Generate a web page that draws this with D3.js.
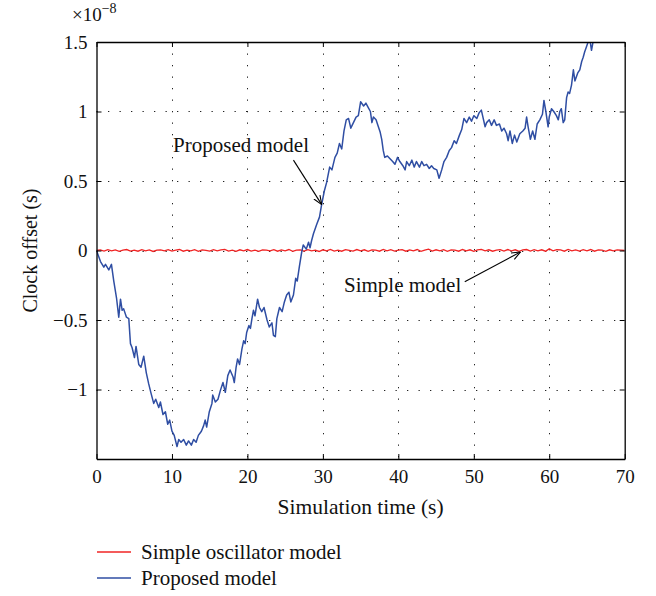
<!DOCTYPE html>
<html>
<head>
<meta charset="utf-8">
<script src="https://cdn.jsdelivr.net/npm/d3@7"></script>
<style>
  html, body { margin: 0; padding: 0; background: #fff; }
</style>
</head>
<body>
<svg id="chart" width="656" height="596"></svg>
<script>
// ---- data (values in units of 1e-8 s) ----
const xTicks = [0, 10, 20, 30, 40, 50, 60, 70];
const yTicks = [-1, -0.5, 0, 0.5, 1, 1.5];
const yGrid = [-1, -0.5, 0, 0.5, 1];
const seriesNames = ["Simple oscillator model", "Proposed model"];
const seriesColors = ["#f02424", "#2f4ea3"];

const proposedT = [0,0.53,0.97,1.19,1.63,1.98,2.29,2.65,2.95,3.18,3.4,3.6,3.97,4.28,4.5,4.72,5.03,5.24,5.6,5.9,6.26,6.6,6.92,7.24,7.58,7.85,8.25,8.47,8.81,9.13,9.44,9.7,10.0,10.3,10.67,10.9,11.2,11.55,11.9,12.2,12.57,12.87,13.2,13.5,13.9,14.2,14.4,14.6,14.95,15.3,15.4,15.75,16.1,16.4,16.76,17.07,17.4,17.7,18.1,18.26,18.5,18.7,18.96,19.27,19.5,19.7,19.9,20.2,20.4,20.6,20.8,21.0,21.35,21.6,21.9,22.2,22.6,22.9,23.25,23.45,23.7,23.9,24.25,24.6,24.9,25.2,25.5,25.75,26.1,26.4,26.6,26.9,27.2,27.4,27.8,28.1,28.3,28.5,28.75,29.2,29.55,29.87,30.2,30.5,30.9,31.2,31.6,31.9,32.2,32.5,32.8,33.1,33.4,33.7,34.05,34.4,34.7,35.0,35.4,35.7,36.0,36.3,36.5,36.7,37.05,37.3,37.6,37.8,38.0,38.2,38.55,38.9,39.25,39.55,39.9,40.2,40.6,40.9,41.1,41.45,41.8,42.1,42.4,42.8,43.1,43.4,43.75,44.1,44.4,44.7,45.1,45.4,45.75,46.05,46.4,46.75,47.05,47.4,47.7,48.1,48.4,48.7,49.05,49.4,49.7,50.0,50.4,50.7,51.0,51.25,51.5,51.7,52.05,52.35,52.7,53.0,53.4,53.7,54.0,54.35,54.55,54.8,55.1,55.4,55.7,56.1,56.5,56.8,57.0,57.2,57.5,57.8,58.1,58.4,58.75,59.1,59.3,59.55,59.85,60.0,60.3,60.6,60.95,61.2,61.4,61.6,61.85,62.05,62.3,62.5,62.7,62.95,63.2,63.4,63.6,63.8,64.05,64.3,64.5,64.7,64.9,65.15,65.35,65.6,65.8,66.0];
const proposedV = [0,-0.08,-0.12,-0.10,-0.14,-0.10,-0.22,-0.34,-0.48,-0.35,-0.43,-0.42,-0.48,-0.49,-0.67,-0.70,-0.77,-0.69,-0.82,-0.84,-0.76,-0.88,-0.96,-1.03,-1.10,-1.07,-1.13,-1.09,-1.18,-1.16,-1.25,-1.22,-1.30,-1.33,-1.41,-1.36,-1.38,-1.36,-1.40,-1.37,-1.40,-1.36,-1.38,-1.33,-1.30,-1.26,-1.22,-1.27,-1.16,-1.10,-1.04,-1.09,-1.07,-1.01,-0.95,-1.02,-0.90,-0.86,-0.91,-0.95,-0.84,-0.78,-0.82,-0.71,-0.65,-0.67,-0.59,-0.54,-0.56,-0.49,-0.43,-0.47,-0.35,-0.41,-0.44,-0.41,-0.50,-0.55,-0.52,-0.61,-0.62,-0.49,-0.41,-0.44,-0.37,-0.32,-0.30,-0.37,-0.32,-0.20,-0.22,-0.11,-0.01,0.04,0.01,0.06,0.02,0.07,0.12,0.19,0.24,0.34,0.43,0.49,0.60,0.58,0.67,0.70,0.77,0.73,0.86,0.94,0.95,0.88,0.92,0.96,0.97,1.07,1.04,1.06,1.03,1.00,0.92,0.96,0.94,0.90,0.85,0.80,0.72,0.67,0.68,0.66,0.64,0.62,0.67,0.64,0.61,0.58,0.64,0.61,0.65,0.60,0.64,0.60,0.64,0.61,0.62,0.59,0.61,0.59,0.58,0.52,0.58,0.64,0.67,0.72,0.74,0.79,0.77,0.83,0.87,0.95,0.92,0.96,0.93,0.97,0.95,0.99,1.01,0.95,0.89,0.92,0.94,0.90,0.94,0.90,0.91,0.86,0.88,0.84,0.79,0.86,0.77,0.83,0.78,0.84,0.86,0.88,0.96,0.89,0.80,0.86,0.80,0.91,0.94,0.98,1.08,1.00,0.89,0.96,1.02,1.00,0.97,0.94,1.00,1.02,0.92,0.94,1.10,1.14,1.13,1.19,1.30,1.22,1.25,1.28,1.30,1.36,1.39,1.43,1.46,1.50,1.53,1.44,1.50,1.56];

const simpleStep = 0.5;
const simpleV = [
  0, 0.005, -0.004, 0.006, -0.003, 0.004, -0.006, 0.002, 0.007, -0.004,
  0.003, -0.005, 0.006, -0.002, 0.004, -0.007, 0.003, 0.005, -0.003, 0.006,
  -0.004, 0.002, 0.007, -0.005, 0.003, -0.002, 0.006, -0.006, 0.004, 0.001,
  -0.005, 0.006, -0.003, 0.004, 0.008, -0.004, 0.002, -0.006, 0.005, -0.002,
  0.007, -0.004, 0.003, -0.006, 0.005, 0.002, -0.003, 0.006, -0.005, 0.004,
  -0.002, 0.007, -0.006, 0.003, 0.005, -0.004, 0.006, -0.003, 0.002, -0.007,
  0.005, -0.002, 0.008, -0.004, 0.003, -0.005, 0.006, 0.001, -0.004, 0.007,
  -0.003, 0.005, -0.006, 0.004, 0.002, -0.005, 0.008, -0.003, 0.006, -0.004,
  0.003, 0.006, -0.005, 0.004, -0.002, 0.007, -0.006, 0.003, 0.010, -0.004,
  0.005, -0.003, 0.006, -0.006, 0.004, 0.002, -0.005, 0.007, -0.003, 0.005,
  -0.006, 0.004, 0.008, -0.003, 0.005, -0.005, 0.003, 0.006, -0.004, 0.007,
  -0.002, 0.005, -0.006, 0.004, 0.007, -0.004, 0.006, -0.003, 0.005, -0.005,
  0.012, -0.003, 0.006, 0.004, -0.005, 0.008, -0.002, 0.005, -0.004, 0.006,
  -0.003, 0.007, -0.005, 0.004, 0.002, -0.006, 0.005, -0.002, 0.004, 0.003,
  0
];

// annotations: [label, textX, textY, arrowFromX, arrowFromY, arrowToX, arrowToY] in data units
const annotProposed = ["Proposed model", 10.15, 0.71, 26.1, 0.65, 29.85, 0.33];
const annotSimple = ["Simple model", 32.8, -0.30, 48.8, -0.225, 56.2, -0.01];

// ---- layout ----
const FONT = '"Liberation Serif"';
const L = 96.5, R = 624.7, T = 42, B = 459;
const svg = d3.select("#chart");
svg.append("rect").attr("width", 656).attr("height", 596).attr("fill", "#fff");

const x = d3.scaleLinear().domain([0, 70]).range([L, R]);
const y = d3.scaleLinear().domain([-1.5, 1.5]).range([B, T]);

svg.append("clipPath").attr("id", "clip")
  .append("rect").attr("x", L).attr("y", T).attr("width", R - L).attr("height", B - T);

// grid
const grid = svg.append("g").attr("stroke", "#222").attr("stroke-width", 1)
  .attr("stroke-dasharray", "1.3,10.2");
grid.selectAll(".vg").data(xTicks.slice(1, -1)).enter().append("line")
  .attr("x1", d => Math.round(x(d)) + 0.5).attr("x2", d => Math.round(x(d)) + 0.5)
  .attr("y1", T).attr("y2", B);
grid.selectAll(".hg").data(yGrid).enter().append("line")
  .attr("y1", d => Math.round(y(d)) + 0.5).attr("y2", d => Math.round(y(d)) + 0.5)
  .attr("x1", L).attr("x2", R);

// series
const simpleData = simpleV.map((v, i) => [i * simpleStep, v]);
const proposedData = proposedT.map((t, i) => [t, proposedV[i]]);
const line = d3.line().x(d => x(d[0])).y(d => y(d[1]));

const plot = svg.append("g").attr("clip-path", "url(#clip)");
plot.append("path").datum(simpleData).attr("d", line)
  .attr("fill", "none").attr("stroke", seriesColors[0]).attr("stroke-width", 1.3);
plot.append("path").datum(proposedData).attr("d", line)
  .attr("fill", "none").attr("stroke", seriesColors[1]).attr("stroke-width", 1.5)
  .attr("stroke-linejoin", "round");

// axes
const fmt = d3.format("");
const axStyle = g => {
  g.attr("font-size", 19);
  g.selectAll("path").attr("stroke", "#000").attr("stroke-width", 1.3);
  g.selectAll("line").attr("stroke", "#000").attr("stroke-width", 1);
  g.selectAll("text").attr("fill", "#111");
};
svg.append("g").attr("transform", `translate(0,${B})`)
  .call(d3.axisBottom(x).tickValues(xTicks).tickFormat(fmt).tickSizeInner(-5).tickSizeOuter(0).tickPadding(11))
  .call(axStyle);
svg.append("g").attr("transform", `translate(0,${T})`)
  .call(d3.axisTop(x).tickValues(xTicks).tickFormat("").tickSizeInner(-5).tickSizeOuter(0))
  .call(axStyle);
svg.append("g").attr("transform", `translate(${L},0)`)
  .call(d3.axisLeft(y).tickValues(yTicks).tickFormat(fmt).tickSizeInner(-5).tickSizeOuter(0).tickPadding(9))
  .call(axStyle);
svg.append("g").attr("transform", `translate(${R},0)`)
  .call(d3.axisRight(y).tickValues(yTicks).tickFormat("").tickSizeInner(-5).tickSizeOuter(0))
  .call(axStyle);

// exponent
const ex = svg.append("text").attr("x", 72).attr("y", 21)
  .attr("font-size", 19).attr("fill", "#111");
ex.append("tspan").text("×10");
ex.append("tspan").attr("dy", -8).attr("font-size", 14).text("−8");

// axis labels
svg.append("text").attr("x", (L + R) / 2).attr("y", 514)
  .attr("text-anchor", "middle").attr("font-size", 21.5).attr("fill", "#111")
  .text("Simulation time (s)");
svg.append("text").attr("transform", `translate(36.5,${(T + B) / 2}) rotate(-90)`)
  .attr("text-anchor", "middle").attr("font-size", 20).attr("fill", "#111")
  .text("Clock offset (s)");

// annotations
svg.append("defs").append("marker").attr("id", "arr")
  .attr("viewBox", "0 0 10 10").attr("refX", 10).attr("refY", 5)
  .attr("markerWidth", 9).attr("markerHeight", 9).attr("markerUnits", "userSpaceOnUse")
  .attr("orient", "auto")
  .append("path").attr("d", "M0,1 L10,5 L0,9").attr("fill", "none").attr("stroke", "#000").attr("stroke-width", 1.2);

[annotProposed, annotSimple].forEach(a => {
  svg.append("text").attr("x", x(a[1])).attr("y", y(a[2]))
    .attr("font-size", 21).attr("fill", "#111").text(a[0]);
  svg.append("line").attr("x1", x(a[3])).attr("y1", y(a[4]))
    .attr("x2", x(a[5])).attr("y2", y(a[6]))
    .attr("stroke", "#000").attr("stroke-width", 1.1).attr("marker-end", "url(#arr)");
});

// legend
const leg = svg.append("g");
seriesNames.forEach((name, i) => {
  const yy = 552 + i * 26;
  leg.append("line").attr("x1", 97).attr("x2", 131).attr("y1", yy).attr("y2", yy)
    .attr("stroke", seriesColors[i]).attr("stroke-width", 1.3);
  leg.append("text").attr("x", 141).attr("y", yy + 6.5)
    .attr("font-size", 21).attr("fill", "#111").text(name);
});

// font for every text (inline style wins over d3's axis attribute)
svg.selectAll("text").style("font-family", FONT);
</script>
</body>
</html>
